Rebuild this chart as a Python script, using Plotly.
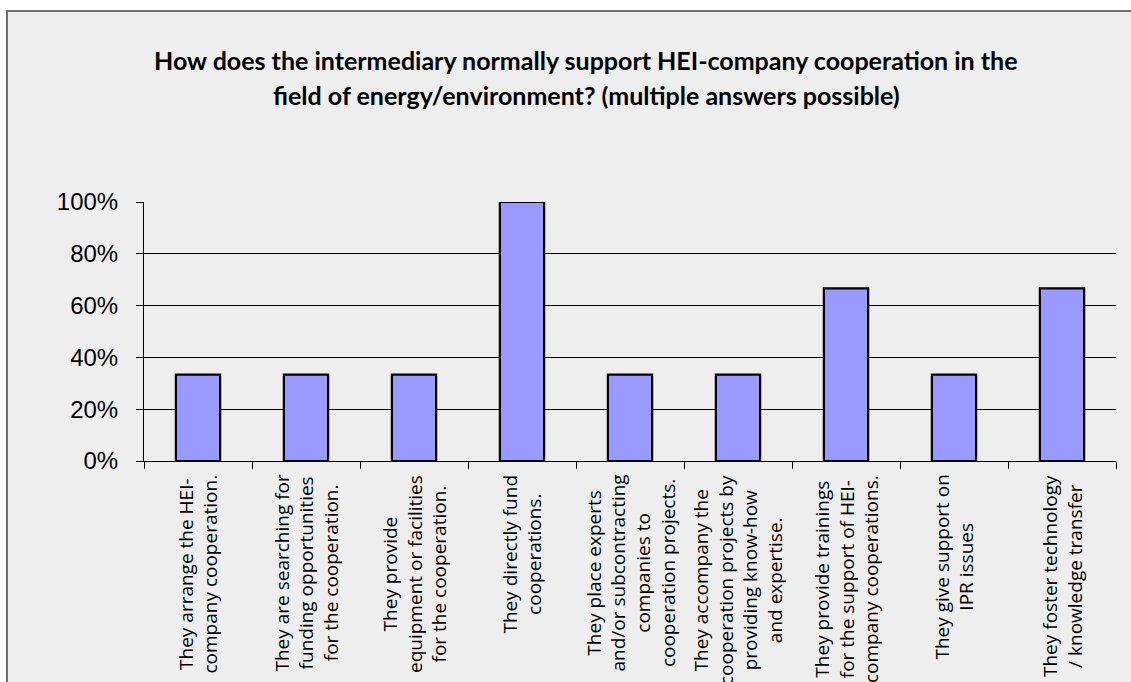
import plotly.graph_objects as go

# Survey answers (share of intermediaries selecting each option)
categories = [
    "They arrange the HEI-<br>company cooperation.",
    "They are searching for<br>funding opportunities<br>for the cooperation.",
    "They provide<br>equipment or facilities<br>for the cooperation.",
    "They directly fund<br>cooperations.",
    "They place experts<br>and/or subcontracting<br>companies to<br>cooperation projects.",
    "They accompany the<br>cooperation projects by<br>providing know-how<br>and expertise.",
    "They provide trainings<br>for the support of HEI-<br>company cooperations.",
    "They give support on<br>IPR issues",
    "They foster technology<br>/ knowledge transfer",
]
values = [1 / 3, 1 / 3, 1 / 3, 1.0, 1 / 3, 1 / 3, 2 / 3, 1 / 3, 2 / 3]
y_ticks = [0, 0.2, 0.4, 0.6, 0.8, 1.0]
y_tick_labels = ["0%", "20%", "40%", "60%", "80%", "100%"]
title_lines = [
    "How does the intermediary normally support HEI-company cooperation in the",
    "field of energy/environment? (multiple answers possible)",
]

W, H = 1131, 682
L, R, T, B = 144, 15, 202, 221
plot_w = W - L - R
plot_h = H - T - B


def px_x(px):
    return (px - L) / plot_w


def px_y(py):
    return (H - B - py) / plot_h


keys = [f"c{i}" for i in range(len(categories))]

fig = go.Figure()
fig.add_trace(
    go.Bar(
        x=keys,
        y=values,
        marker=dict(color="#9999FF", line=dict(color="#000000", width=2.2)),
        width=0.41,
        hoverinfo="skip",
    )
)

annotations = []
for k, lab in zip(keys, categories):
    annotations.append(
        dict(
            x=k, xref="x", y=0, yref="paper",
            yanchor="top", xanchor="center", yshift=-12,
            text=lab, textangle=-90, align="center", showarrow=False,
            font=dict(family="Open Sans", size=19, color="#000000"),
        )
    )

for i, line in enumerate(title_lines):
    annotations.append(
        dict(
            x=px_x(586), xref="paper", y=px_y(60 + 35 * i), yref="paper",
            xanchor="center", yanchor="middle",
            text=f"<b>{line}</b>", showarrow=False,
            font=dict(family="Lato", size=25, color="#000000"),
        )
    )

# Chart frame
shapes = [
    dict(
        type="rect", xref="paper", yref="paper", layer="below",
        x0=px_x(7), x1=px_x(1140), y0=px_y(700), y1=px_y(11),
        fillcolor="#EEEEEE", line=dict(color="#6E6E6E", width=2),
    )
]

fig.update_layout(
    width=W, height=H,
    margin=dict(l=L, r=R, t=T, b=B, autoexpand=False),
    paper_bgcolor="#FFFFFF",
    plot_bgcolor="rgba(0,0,0,0)",
    showlegend=False,
    annotations=annotations,
    shapes=shapes,
    xaxis=dict(
        type="category", showticklabels=False,
        showline=True, linecolor="#000000", linewidth=1,
        ticks="outside", tickson="boundaries", ticklen=7, tickcolor="#000000",
        showgrid=False, zeroline=False,
    ),
    yaxis=dict(
        range=[0, 1.0], tickvals=y_ticks, ticktext=y_tick_labels,
        showline=True, linecolor="#000000", linewidth=1,
        ticks="outside", ticklen=7, tickcolor="#000000",
        ticklabelstandoff=13,
        showgrid=True, gridcolor="#000000", gridwidth=1,
        zeroline=False,
        tickfont=dict(family="Liberation Sans", size=24, color="#000000"),
    ),
)

fig.write_html("out.html")
